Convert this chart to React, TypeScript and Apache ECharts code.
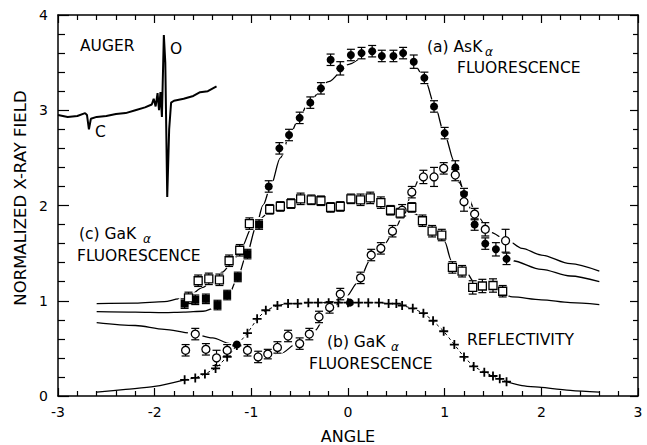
import React, { useEffect, useRef } from "react";
import * as echarts from "echarts";

// ---------- data ----------
const AUGER_X = [-3.0, -2.9, -2.8, -2.72, -2.7, -2.68, -2.66, -2.6, -2.5, -2.4, -2.3, -2.2, -2.1, -2.03, -2.01, -1.99, -1.97, -1.955, -1.94, -1.925, -1.905, -1.89, -1.87, -1.85, -1.83, -1.8, -1.7, -1.6, -1.53, -1.45, -1.36];
const AUGER_Y = [2.95, 2.93, 2.94, 2.97, 2.95, 2.8, 2.91, 2.93, 2.94, 2.96, 2.97, 3.0, 3.03, 3.06, 3.12, 3.04, 3.18, 3.0, 3.19, 2.93, 3.79, 3.5, 2.09, 2.8, 3.08, 3.1, 3.12, 3.15, 3.19, 3.2, 3.25];

// (a) AsK-alpha fluorescence, filled circles
const AS_X = [-0.82, -0.71, -0.61, -0.5, -0.39, -0.28, -0.18, -0.08, 0.03, 0.14, 0.25, 0.35, 0.47, 0.57, 0.68, 0.79, 0.89, 1.0, 1.11, 1.2, 1.31, 1.42, 1.53, 1.64];
const AS_Y = [2.2, 2.6, 2.74, 2.92, 3.08, 3.23, 3.53, 3.44, 3.58, 3.6, 3.62, 3.57, 3.57, 3.6, 3.51, 3.34, 3.04, 2.76, 2.4, 2.12, 1.8, 1.6, 1.54, 1.44];
const AS_ERR = [0.06, 0.06, 0.06, 0.06, 0.06, 0.06, 0.06, 0.07, 0.06, 0.06, 0.06, 0.06, 0.06, 0.06, 0.07, 0.06, 0.06, 0.06, 0.07, 0.06, 0.06, 0.06, 0.07, 0.06];
// (a) low-angle points, filled squares
const ASLOW_X = [-1.69, -1.58, -1.47, -1.35, -1.25, -1.14, -1.04, -0.92];
const ASLOW_Y = [0.97, 1.01, 1.02, 0.955, 1.06, 1.25, 1.49, 1.8];
const ASLOW_ERR = [0.05, 0.05, 0.05, 0.05, 0.05, 0.05, 0.05, 0.05];

// (b) GaK-alpha fluorescence, open circles
const GAB_X = [-1.68, -1.58, -1.47, -1.36, -1.25, -1.04, -0.93, -0.83, -0.73, -0.62, -0.5, -0.4, -0.3, -0.19, -0.08, 0.13, 0.24, 0.34, 0.46, 0.56, 0.66, 0.78, 0.89, 0.99, 1.11, 1.2, 1.31, 1.42, 1.63];
const GAB_Y = [0.48, 0.65, 0.49, 0.4, 0.48, 0.48, 0.41, 0.44, 0.51, 0.63, 0.55, 0.65, 0.83, 0.93, 1.07, 1.24, 1.48, 1.55, 1.73, 1.95, 2.14, 2.3, 2.3, 2.39, 2.32, 2.04, 1.91, 1.75, 1.63];
const GAB_ERR = [0.06, 0.06, 0.06, 0.08, 0.06, 0.06, 0.06, 0.05, 0.06, 0.06, 0.06, 0.06, 0.06, 0.06, 0.06, 0.06, 0.06, 0.06, 0.06, 0.06, 0.06, 0.07, 0.1, 0.06, 0.06, 0.1, 0.06, 0.07, 0.12];

// (c) GaK-alpha fluorescence, open squares
const GAC_X = [-1.65, -1.55, -1.44, -1.33, -1.23, -1.12, -1.02, -0.81, -0.7, -0.59, -0.49, -0.38, -0.28, -0.18, -0.08, 0.03, 0.13, 0.23, 0.34, 0.44, 0.54, 0.66, 0.77, 0.87, 0.97, 1.08, 1.18, 1.29, 1.39, 1.5, 1.6];
const GAC_Y = [1.03, 1.21, 1.23, 1.22, 1.42, 1.53, 1.81, 1.96, 1.99, 2.02, 2.07, 2.06, 2.05, 1.98, 1.99, 2.07, 2.06, 2.08, 2.03, 1.95, 1.92, 1.98, 1.84, 1.73, 1.69, 1.35, 1.31, 1.14, 1.155, 1.16, 1.1];
const GAC_ERR = [0.06, 0.06, 0.06, 0.06, 0.06, 0.06, 0.06, 0.05, 0.05, 0.05, 0.06, 0.05, 0.05, 0.05, 0.05, 0.05, 0.06, 0.06, 0.06, 0.05, 0.05, 0.05, 0.06, 0.06, 0.06, 0.06, 0.06, 0.07, 0.07, 0.07, 0.06];

// filled reference points
const DOT_X = [-1.15, 0.02];
const DOT_Y = [0.54, 0.98];

// reflectivity crosses
const REF_X = [-1.69, -1.58, -1.48, -1.37, -1.25, -1.15, -1.04, -0.94, -0.85, -0.73, -0.62, -0.52, -0.41, -0.31, -0.2, -0.1, 0.0, 0.11, 0.21, 0.32, 0.42, 0.5, 0.56, 0.67, 0.78, 0.88, 0.99, 1.1, 1.2, 1.3, 1.41, 1.5, 1.57, 1.64];
const REF_Y = [0.17, 0.19, 0.23, 0.29, 0.41, 0.53, 0.66, 0.81, 0.9, 0.95, 0.97, 0.97, 0.98, 0.98, 0.98, 0.98, 0.98, 0.98, 0.98, 0.98, 0.97, 0.97, 0.95, 0.92, 0.87, 0.79, 0.68, 0.54, 0.41, 0.31, 0.25, 0.21, 0.18, 0.15];
const REF_L_X = [-2.6, -2.3, -2.0, -1.69];
const REF_L_Y = [0.04, 0.07, 0.1, 0.17];
const REF_R_X = [1.64, 1.8, 2.0, 2.3, 2.6];
const REF_R_Y = [0.15, 0.11, 0.09, 0.06, 0.04];

// theory curves
const TH_A_X = [-2.6, -2.2, -1.9, -1.7, -1.5, -1.36, -1.25, -1.15, -1.05, -0.95, -0.88, -0.8, -0.7, -0.6, -0.5, -0.4, -0.2, 0, 0.2, 0.4, 0.55, 0.7, 0.8, 0.9, 1.0, 1.1, 1.2, 1.3, 1.45, 1.6, 1.7, 2.0, 2.3, 2.6];
const TH_A_Y = [0.885, 0.88, 0.875, 0.88, 0.89, 0.93, 1.02, 1.22, 1.48, 1.78, 2.0, 2.2, 2.5, 2.75, 2.93, 3.1, 3.3, 3.48, 3.58, 3.61, 3.59, 3.46, 3.31, 3.04, 2.74, 2.46, 2.15, 1.88, 1.62, 1.48, 1.42, 1.33, 1.26, 1.2];
const TH_B_X = [-2.6, -2.2, -1.9, -1.63, -1.4, -1.22, -1.12, -0.94, -0.8, -0.69, -0.53, -0.34, -0.22, -0.03, 0.11, 0.23, 0.38, 0.5, 0.6, 0.68, 0.74, 0.85, 1.0, 1.14, 1.24, 1.33, 1.47, 1.64, 1.8, 2.0, 2.3, 2.6];
const TH_B_Y = [0.77, 0.74, 0.7, 0.66, 0.61, 0.55, 0.52, 0.46, 0.44, 0.45, 0.55, 0.69, 0.87, 1.03, 1.2, 1.43, 1.6, 1.78, 2.0, 2.18, 2.29, 2.35, 2.38, 2.25, 2.09, 1.9, 1.72, 1.64, 1.55, 1.48, 1.39, 1.31];
const TH_C_X = [-2.6, -2.2, -1.9, -1.75, -1.65, -1.5, -1.4, -1.3, -1.2, -1.1, -1.0, -0.9, -0.8, -0.6, -0.4, -0.2, 0, 0.2, 0.4, 0.5, 0.6, 0.7, 0.8, 0.9, 1.0, 1.07, 1.15, 1.23, 1.3, 1.4, 1.55, 1.7, 2.0, 2.3, 2.6];
const TH_C_Y = [0.97, 0.975, 0.99, 1.02, 1.05, 1.14, 1.22, 1.3, 1.4, 1.56, 1.76, 1.87, 1.95, 2.0, 2.02, 2.02, 2.02, 2.02, 2.01, 1.99, 1.96, 1.91, 1.82, 1.75, 1.62, 1.42, 1.33, 1.29, 1.2, 1.14, 1.1, 1.04, 1.01, 0.98, 0.96];

// ---------- helpers ----------
const zip = (xs: number[], ys: number[]) => xs.map((x, i) => [x, ys[i]]);
const zip3 = (xs: number[], ys: number[], es: number[]) => xs.map((x, i) => [x, ys[i], es[i]]);
const FONT = "DejaVu Sans";
const BLACK = "#000";

const errorBarItem = (params: any, api: any) => {
  const x = api.value(0);
  const y = api.value(1);
  const e = api.value(2);
  const top = api.coord([x, y + e]);
  const bot = api.coord([x, y - e]);
  const w = 4;
  const st = { stroke: BLACK, lineWidth: 1.2 };
  return {
    type: "group",
    children: [
      { type: "line", shape: { x1: top[0], y1: top[1], x2: bot[0], y2: bot[1] }, style: st },
      { type: "line", shape: { x1: top[0] - w, y1: top[1], x2: top[0] + w, y2: top[1] }, style: st },
      { type: "line", shape: { x1: bot[0] - w, y1: bot[1], x2: bot[0] + w, y2: bot[1] }, style: st },
    ],
  };
};

const errSeries = (data: number[][]) => ({
  type: "custom",
  renderItem: errorBarItem,
  data,
  encode: { x: 0, y: 1 },
  z: 4,
  silent: true,
});

const theory = (xs: number[], ys: number[]) => ({
  type: "line",
  data: zip(xs, ys),
  symbol: "none",
  smooth: 0.3,
  smoothMonotone: "x",
  lineStyle: { color: BLACK, width: 1.3 },
  z: 1,
  silent: true,
});

const axisCommon = {
  type: "value",
  axisLine: { show: true, onZero: false, lineStyle: { color: BLACK, width: 1.5 } },
  axisTick: { show: true, inside: true, length: 8, lineStyle: { color: BLACK, width: 1.2 } },
  minorTick: { show: true, splitNumber: 5, length: 5, lineStyle: { color: BLACK, width: 1.2 } },
  splitLine: { show: false },
  minorSplitLine: { show: false },
};

const CROSS = "path://M4,0H6V4H10V6H6V10H4V6H0V4H4Z";

const txt = (text: string, x: number, y: number, size: number, extra: any = {}) => ({
  type: "text",
  x,
  y,
  z: 100,
  style: { text, fill: BLACK, font: `${size}px "${FONT}"`, verticalAlign: "middle", align: "left", ...extra },
});

const alpha = (x: number, y: number) => txt("α", x, y, 12, { font: `italic 12px "${FONT}"` });

export default function App() {
  const ref = useRef<HTMLDivElement>(null);
  useEffect(() => {
    const chart = echarts.init(ref.current as HTMLDivElement, null, { renderer: "svg" });
    const haloData = [
      ...zip(AS_X, AS_Y),
      ...zip(ASLOW_X, ASLOW_Y),
      ...zip(GAB_X, GAB_Y),
      ...zip(GAC_X, GAC_Y),
      ...zip(DOT_X, DOT_Y),
    ];
    const option: any = {
      animation: false,
      backgroundColor: "#fff",
      grid: { left: 58, top: 15, right: 9, bottom: 49, containLabel: false },
      xAxis: [
        {
          ...axisCommon,
          min: -3,
          max: 3,
          interval: 1,
          position: "bottom",
          axisLabel: { color: BLACK, fontSize: 14, fontFamily: FONT, margin: 9 },
        },
        {
          ...axisCommon,
          min: -3,
          max: 3,
          interval: 1,
          position: "top",
          axisLabel: { show: false },
        },
      ],
      yAxis: [
        {
          ...axisCommon,
          min: 0,
          max: 4,
          interval: 1,
          position: "left",
          axisTick: { ...axisCommon.axisTick, length: 11 },
          minorTick: { ...axisCommon.minorTick, length: 7 },
          axisLabel: { color: BLACK, fontSize: 14, fontFamily: FONT, margin: 10 },
        },
        {
          ...axisCommon,
          min: 0,
          max: 4,
          interval: 1,
          position: "right",
          axisLabel: { show: false },
        },
      ],
      graphic: [
        txt("AUGER", 80, 46, 15.5),
        txt("O", 170, 49, 15.5),
        txt("C", 95, 132, 15.5),
        txt("(a) AsK", 427, 47, 15.5),
        alpha(485, 52),
        txt("FLUORESCENCE", 457, 68, 15.5),
        txt("(c) GaK", 79, 234, 15.5),
        alpha(143, 239),
        txt("FLUORESCENCE", 77, 256, 15.5),
        txt("(b) GaK", 327, 342, 15.5),
        alpha(391, 347),
        txt("FLUORESCENCE", 309, 364, 15.5),
        txt("REFLECTIVITY", 467, 340, 15.5),
        txt("ANGLE", 348, 436, 16, { align: "center" }),
        {
          type: "text",
          x: 20,
          y: 198,
          rotation: Math.PI / 2,
          z: 100,
          style: {
            text: "NORMALIZED X-RAY FIELD",
            fill: BLACK,
            font: `16.5px "${FONT}"`,
            align: "center",
            verticalAlign: "middle",
          },
        },
      ],
      series: [
        // Auger inset trace
        {
          type: "line",
          data: zip(AUGER_X, AUGER_Y),
          symbol: "none",
          lineStyle: { color: BLACK, width: 2 },
          z: 1,
          silent: true,
        },
        theory(TH_A_X, TH_A_Y),
        theory(TH_B_X, TH_B_Y),
        theory(TH_C_X, TH_C_Y),
        // reflectivity
        {
          type: "line",
          data: zip(REF_L_X, REF_L_Y),
          symbol: "none",
          smooth: 0.3,
          lineStyle: { color: BLACK, width: 1.3 },
          z: 1,
          silent: true,
        },
        {
          type: "line",
          data: zip(REF_R_X, REF_R_Y),
          symbol: "none",
          smooth: 0.3,
          lineStyle: { color: BLACK, width: 1.3 },
          z: 1,
          silent: true,
        },
        {
          type: "line",
          data: zip(REF_X, REF_Y),
          symbol: CROSS,
          symbolSize: 9,
          showAllSymbol: true,
          itemStyle: { color: BLACK },
          lineStyle: { color: BLACK, width: 1, type: [3, 3] },
          z: 3,
          silent: true,
        },
        // halos
        {
          type: "scatter",
          data: haloData,
          symbol: "circle",
          symbolSize: 15,
          itemStyle: { color: "#fff", opacity: 1 },
          z: 2,
          silent: true,
        },
        errSeries(zip3(AS_X, AS_Y, AS_ERR)),
        errSeries(zip3(ASLOW_X, ASLOW_Y, ASLOW_ERR)),
        errSeries(zip3(GAB_X, GAB_Y, GAB_ERR)),
        errSeries(zip3(GAC_X, GAC_Y, GAC_ERR)),
        {
          type: "scatter",
          data: zip(AS_X, AS_Y),
          symbol: "circle",
          symbolSize: 8,
          itemStyle: { color: BLACK, opacity: 1 },
          z: 5,
          silent: true,
        },
        {
          type: "scatter",
          data: zip(ASLOW_X, ASLOW_Y),
          symbol: "rect",
          symbolSize: 8,
          itemStyle: { color: BLACK, opacity: 1 },
          z: 5,
          silent: true,
        },
        {
          type: "scatter",
          data: zip(GAB_X, GAB_Y),
          symbol: "circle",
          symbolSize: 8,
          itemStyle: { color: "#fff", borderColor: BLACK, borderWidth: 1.3, opacity: 1 },
          z: 5,
          silent: true,
        },
        {
          type: "scatter",
          data: zip(GAC_X, GAC_Y),
          symbol: "rect",
          symbolSize: 8,
          itemStyle: { color: "#fff", borderColor: BLACK, borderWidth: 1.3, opacity: 1 },
          z: 5,
          silent: true,
        },
        {
          type: "scatter",
          data: zip(DOT_X, DOT_Y),
          symbol: "circle",
          symbolSize: 8,
          itemStyle: { color: BLACK, opacity: 1 },
          z: 5,
          silent: true,
        },
      ],
    };
    chart.setOption(option);
    return () => chart.dispose();
  }, []);
  return (
    <div
      ref={ref}
      style={{ position: "absolute", left: 0, top: 0, width: 647, height: 445, background: "#fff" }}
    />
  );
}
